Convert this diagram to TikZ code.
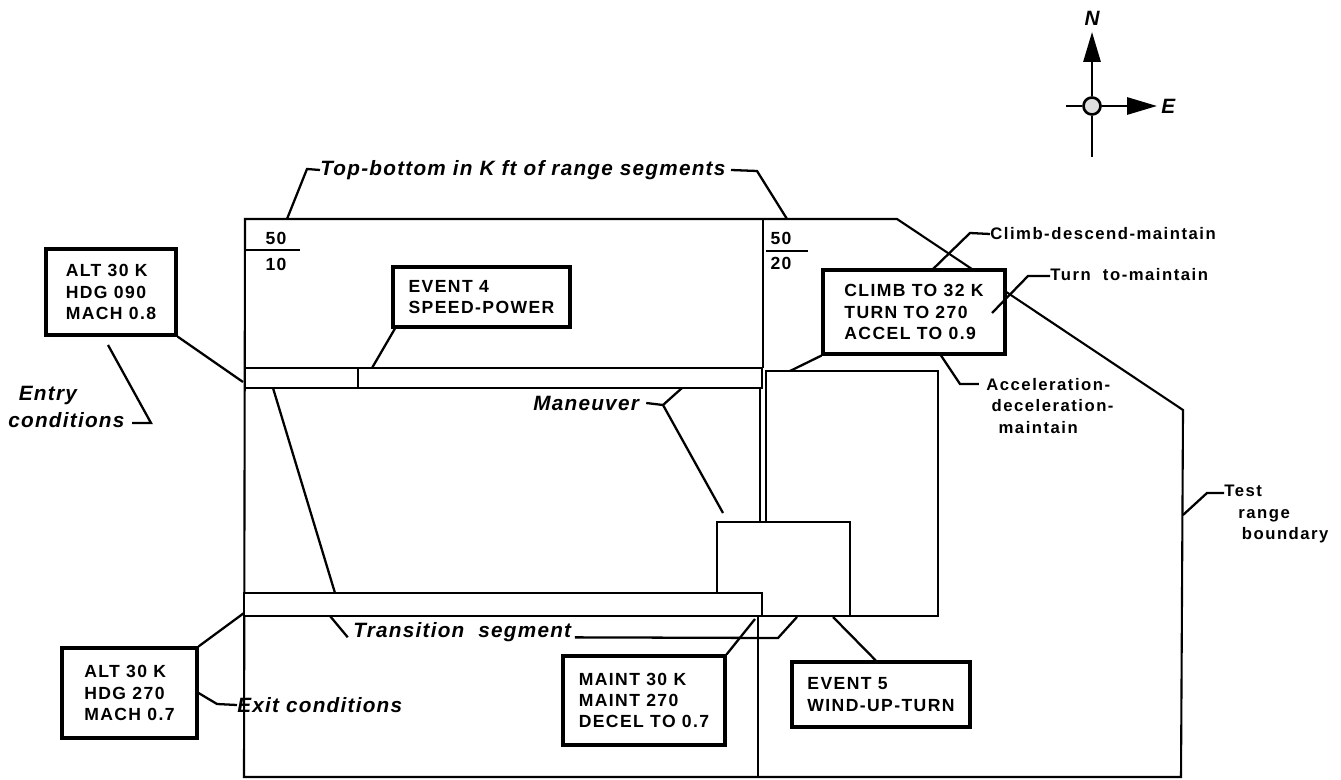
\documentclass[tikz,border=0pt]{standalone}
\usepackage{fontspec}
\setmainfont{Liberation Sans}
\newfontfamily\boxfont[LetterSpace=8]{Liberation Sans}
\newfontfamily\lblfont[LetterSpace=6]{Liberation Sans}
\newfontfamily\notefont[LetterSpace=9]{Liberation Sans}
\usetikzlibrary{arrows.meta}

\begin{document}
\begin{tikzpicture}[x=0.02cm,y=-0.02cm,
  cond/.style={draw,line width=1.8pt,fill=white,align=left,inner sep=0pt,
    font=\boxfont\bfseries\fontsize{10}{12.2}\selectfont},
  lbl/.style={anchor=west,inner sep=0pt,align=left,
    font=\lblfont\bfseries\itshape\fontsize{11.8}{15.4}\selectfont},
  note/.style={anchor=west,inner sep=0pt,align=left,
    font=\notefont\bfseries\fontsize{9.5}{12.5}\selectfont},
  alt/.style={inner sep=0pt,font=\boxfont\bfseries\fontsize{10}{12}\selectfont},
  lead/.style={line width=1.3pt},
  edge/.style={line width=1.2pt},
  strip/.style={draw,line width=1.1pt,fill=white},
  compass/.style={line width=1.5pt,-{Triangle[length=17pt,width=9.7pt]}}]

  \useasboundingbox (0,0) rectangle (1341,780);

  % test range and segment split
  \draw[edge] (245,219) -- (897,219) -- (1183,410) -- (1181,777) -- (244,777) -- cycle;
  \draw[edge] (763,219) -- (763,368);
  \draw[edge] (758,616) -- (758,777);

  % top-bottom marks
  \node[alt] (top1) at (276,238) {50};
  \node[alt] (bot1) at (276,264) {10};
  \draw[line width=0.9pt] (245,250) -- (300,250);
  \node[alt] (top2) at (781,238) {50};
  \node[alt] (bot2) at (781,263) {20};
  \draw[line width=0.9pt] (766,251) -- (808,251);

  % maneuver path
  \draw[edge] (766,522) -- (766,371) -- (938,371) -- (938,616) -- (850,616);
  \draw[edge] (760,388) -- (760,522);
  \draw[strip] (717,522) rectangle (850,616);
  \draw[strip] (245,368) rectangle (762,388);
  \draw[edge] (358,368) -- (358,388);
  \draw[strip] (244,593) rectangle (762,616);
  \coordinate (legA) at (273,388);
  \coordinate (legB) at (335,593);
  \draw[lead] (legA) -- (legB);

  % condition boxes
  \node[cond,minimum width=2.6cm,minimum height=1.72cm] (entry) at (111,292) {ALT 30 K\\HDG 090\\MACH 0.8};
  \node[cond,minimum width=3.54cm,minimum height=1.2cm] (ev4) at (481.5,297) {EVENT 4\\SPEED-POWER};
  \node[cond,minimum width=3.64cm,minimum height=1.68cm] (climb) at (914,312) {CLIMB TO 32 K\\TURN TO 270\\ACCEL TO 0.9};
  \node[cond,minimum width=2.7cm,minimum height=1.8cm] (exit) at (129.5,693) {ALT 30 K\\HDG 270\\MACH 0.7};
  \node[cond,minimum width=3.24cm,minimum height=1.78cm] (maint) at (644,700.5) {MAINT 30 K\\MAINT 270\\DECEL TO 0.7};
  \node[cond,minimum width=3.56cm,minimum height=1.3cm] (ev5) at (881,694.5) {EVENT 5\\WIND-UP-TURN};

  % labels
  \node[lbl] (rangelbl) at (320,170) {Top-bottom in K ft of range segments};
  \node[lbl] (entrylbl) at (8,407) {\hspace*{6pt}Entry\\conditions};
  \node[lbl] (exitlbl) at (237,705) {Exit conditions};
  \node[lbl] (manlbl) at (533,403) {Maneuver};
  \node[lbl] (translbl) at (353,632) {Transition\ \ segment};
  \node[note] (cdm) at (990,234) {Climb-descend-maintain};
  \node[note] (ttm) at (1050,275) {Turn\ \ to-maintain};
  \node[note] (adm) at (986,406) {Acceleration-\\\hspace*{3pt}deceleration-\\\hspace*{7pt}maintain};
  \node[note] (trb) at (1224,514) {Test\\\hspace*{8pt}range\\\hspace*{10pt}boundary};

  % leader points
  \coordinate (rlA) at (287,219);
  \coordinate (rlB) at (307,169);
  \coordinate (rrB) at (757,171);
  \coordinate (rrA) at (787,219);
  \coordinate (entryPt) at (243,382);
  \coordinate (entryTail) at (108,345);
  \coordinate (entryBend) at (151,423);
  \coordinate (entryHook) at (132,423);
  \coordinate (exitPt) at (244,613);
  \coordinate (exitBend) at (217,704);
  \coordinate (ev4Pt) at (372,368);
  \coordinate (manFork) at (663,405);
  \coordinate (manUp) at (682,388);
  \coordinate (manDn) at (723,513);
  \coordinate (transTick) at (330,616);
  \coordinate (transBend) at (778,638);
  \coordinate (transEnd) at (797,617);
  \coordinate (maintPt) at (755,619);
  \coordinate (ev5Pt) at (833,617);
  \coordinate (climbPt) at (790,371);
  \coordinate (cdmTail) at (932,270);
  \coordinate (cdmBend) at (970,233);
  \coordinate (ttmIn) at (992,313);
  \coordinate (ttmBend) at (1028,276);
  \coordinate (admTail) at (940,354);
  \coordinate (admBend) at (960,384);
  \coordinate (trbPt) at (1183,515);
  \coordinate (trbBend) at (1207,493);
  \coordinate (trbHook) at (1224,493);

  % leaders
  \draw[lead] (rlA) -- (rlB) -- (rangelbl.west);
  \draw[lead] ([xshift=3pt]rangelbl.east) -- (rrB) -- (rrA);
  \draw[lead] (entry.south east) -- (entryPt);
  \draw[lead] (entryTail) -- (entryBend) -- (entryHook);
  \draw[lead] (exit.north east) -- (exitPt);
  \draw[lead] (exit.east) -- (exitBend) -- (exitlbl.west);
  \draw[lead] ([xshift=2pt]ev4.south west) -- (ev4Pt);
  \draw[lead] ([xshift=4pt]manlbl.east) -- (manFork) -- (manUp);
  \draw[lead] (manFork) -- (manDn);
  \draw[lead] (transTick) -- ([xshift=-3pt,yshift=-3pt]translbl.west);
  \draw[lead] ([xshift=2pt]translbl.base east) -- (transBend) -- (transEnd);
  \draw[lead] (maint.north east) -- (maintPt);
  \draw[lead] (ev5Pt) -- ([xshift=-3pt]ev5.north);
  \draw[lead] (climb.south west) -- (climbPt);
  \draw[lead] (cdmTail) -- (cdmBend) -- (cdm.west);
  \draw[lead] (ttmIn) -- (ttmBend) -- (ttm.west |- ttmBend);
  \draw[lead] (admTail) -- (admBend) -- ([xshift=-4pt]adm.west |- admBend);
  \draw[lead] (trbPt) -- (trbBend) -- (trbHook);

  % compass
  \node[draw,circle,line width=1.5pt,fill=gray!25,minimum size=0.34cm,inner sep=0pt] (hub) at (1092,106) {};
  \coordinate (nTip) at (1092,32);
  \coordinate (sEnd) at (1092,157);
  \coordinate (wEnd) at (1066,106);
  \coordinate (eTip) at (1157,106);
  \draw[compass] (hub.north) -- (nTip);
  \draw[line width=1.5pt] (hub.south) -- (sEnd);
  \draw[line width=1.5pt] (hub.west) -- (wEnd);
  \draw[compass] (hub.east) -- (eTip);
  \node[lbl,anchor=south] (north) at (1092,26) {N};
  \node[lbl] (east) at (1161,106) {E};
\end{tikzpicture}
\end{document}
